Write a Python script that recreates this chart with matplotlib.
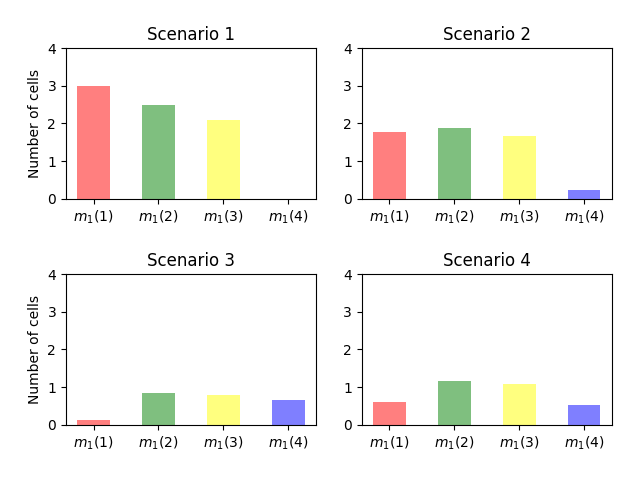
import matplotlib
matplotlib.use("Agg")
import matplotlib.pyplot as plt
import numpy as np

categories = [r"$m_1(1)$", r"$m_1(2)$", r"$m_1(3)$", r"$m_1(4)$"]
titles = ["Scenario 1", "Scenario 2", "Scenario 3", "Scenario 4"]
scenario1 = [3.0, 2.5, 2.1, 0.0]
scenario2 = [1.76, 1.87, 1.66, 0.24]
scenario3 = [0.13, 0.85, 0.80, 0.66]
scenario4 = [0.61, 1.17, 1.09, 0.53]
colors = ["red", "green", "yellow", "blue"]

data = [scenario1, scenario2, scenario3, scenario4]

fig, axes = plt.subplots(2, 2, figsize=(6.4, 4.8), dpi=100)
fig.subplots_adjust(left=0.103, right=0.956, top=0.9, bottom=0.115, wspace=0.184, hspace=0.5)
x = np.arange(len(categories))
for i, ax in enumerate(axes.flat):
    ax.bar(x, data[i], width=0.5, color=colors, alpha=0.5)
    ax.set_title(titles[i])
    ax.set_xticks(x)
    ax.set_xticklabels(categories)
    ax.set_ylim(0, 4)
    ax.set_yticks([0, 1, 2, 3, 4])
    if i % 2 == 0:
        ax.set_ylabel("Number of cells")

fig.savefig("out.png")
